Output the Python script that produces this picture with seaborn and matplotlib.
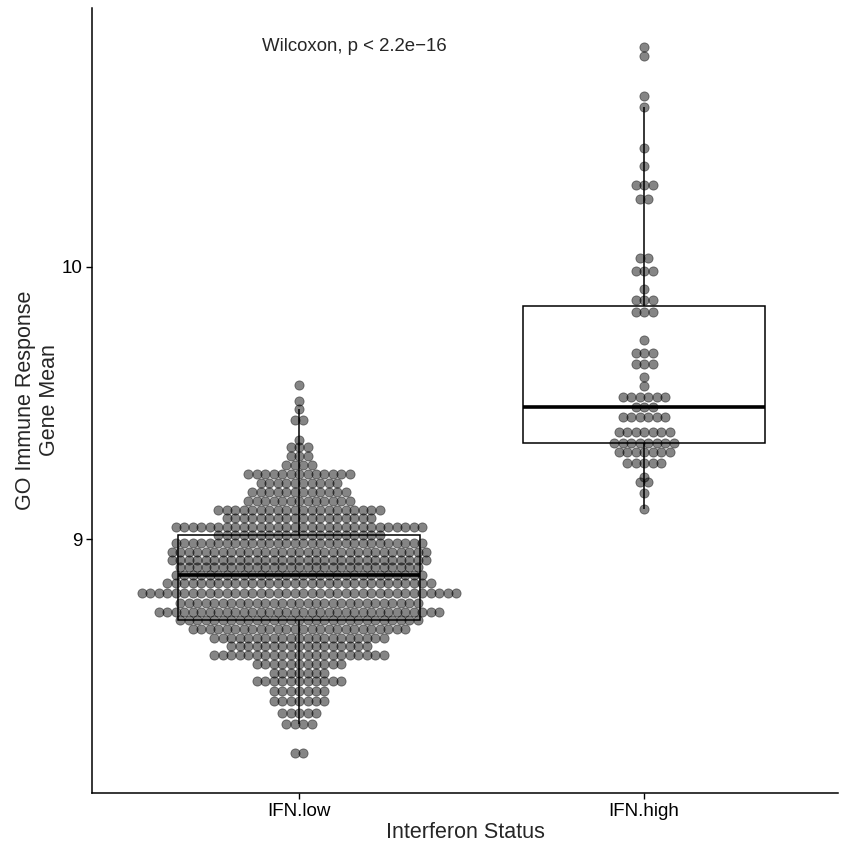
import numpy as np
import pandas as pd
import matplotlib
matplotlib.use("Agg")
import matplotlib.pyplot as plt
import seaborn as sns

# ---- data (dot-plot bins) ----
groups = ["IFN.low", "IFN.high"]

low_vals = [9.567, 9.507, 9.477, 9.438, 9.364, 9.340, 9.307, 9.274, 9.241, 9.205,
            9.172, 9.139, 9.109, 9.079, 9.046, 9.016, 8.985, 8.955, 8.922, 8.899,
            8.869, 8.839, 8.802, 8.765, 8.734, 8.704, 8.671, 8.639, 8.609, 8.576,
            8.543, 8.508, 8.480, 8.445, 8.405, 8.362, 8.321, 8.215]
low_counts = [1, 1, 1, 2, 1, 3, 3, 4, 13, 10,
              12, 13, 20, 18, 30, 20, 30, 31, 31, 29,
              30, 32, 38, 29, 34, 29, 26, 21, 17, 21,
              11, 7, 11, 7, 7, 5, 4, 2]

high_vals = [10.807, 10.773, 10.626, 10.587, 10.437, 10.369, 10.300, 10.247, 10.033, 9.985,
             9.918, 9.878, 9.835, 9.731, 9.685, 9.642, 9.596, 9.563, 9.521, 9.486,
             9.450, 9.395, 9.352, 9.321, 9.281, 9.230, 9.211, 9.169, 9.110]
high_counts = [1, 1, 1, 1, 1, 1, 3, 2, 2, 3,
               1, 3, 3, 1, 3, 3, 1, 1, 6, 3,
               6, 7, 8, 7, 5, 1, 2, 1, 1]

annot_text = "Wilcoxon, p < 2.2e\u221216"
x_title = "Interferon Status"
y_title = "GO Immune Response\nGene Mean"
y_ticks = [9, 10]

# ---- build tidy data ----
rows = []
dot_x = []
dot_y = []
dx = 0.0246  # horizontal stacking step (data units per dot)
for gi, (vals, counts) in enumerate([(low_vals, low_counts), (high_vals, high_counts)]):
    for v, c in zip(vals, counts):
        for k in range(c):
            rows.append((groups[gi], v))
            dot_x.append(gi + (k - (c - 1) / 2.0) * dx)
            dot_y.append(v)
df = pd.DataFrame(rows, columns=["status", "value"])
dots = pd.DataFrame({"x": dot_x, "y": dot_y})

# ---- style ----
sns.set_style("ticks")
plt.rcParams["font.family"] = ["Liberation Sans", "DejaVu Sans"]

fig = plt.figure(figsize=(8.44, 8.48), dpi=100)
ax = fig.add_axes([92 / 844, 55 / 848, (838 - 92) / 844, (793 - 8) / 848])

sns.boxplot(data=df, x="status", y="value", order=groups, ax=ax, width=0.7,
            showfliers=False, showcaps=False, color="white", linecolor="black",
            linewidth=1.1, medianprops=dict(linewidth=2.6, color="black"),
            zorder=1)

sns.scatterplot(data=dots, x="x", y="y", ax=ax, s=44, color="black", alpha=0.48,
                edgecolor="black", linewidth=0.6, zorder=3, legend=False)

ax.text(-0.107, 10.806, annot_text, fontsize=13.4, ha="left", va="center")

ax.set_xlim(-0.6, 1.562)
ax.set_ylim(8.069, 10.949)
ax.set_xticks([0, 1])
ax.set_xticklabels(groups, fontsize=13.5)
ax.set_yticks(y_ticks)
ax.set_yticklabels([str(t) for t in y_ticks], fontsize=13.5)
ax.set_xlabel(x_title, fontsize=15.5, labelpad=2)
ax.set_ylabel(y_title, fontsize=15.5, labelpad=1)
ax.tick_params(axis="both", length=4, width=1, color="black", labelcolor="black", pad=3)
for s in ["left", "bottom"]:
    ax.spines[s].set_linewidth(1.1)
    ax.spines[s].set_color("black")
sns.despine(ax=ax)
ax.grid(False)

fig.savefig("out.png", dpi=100)
